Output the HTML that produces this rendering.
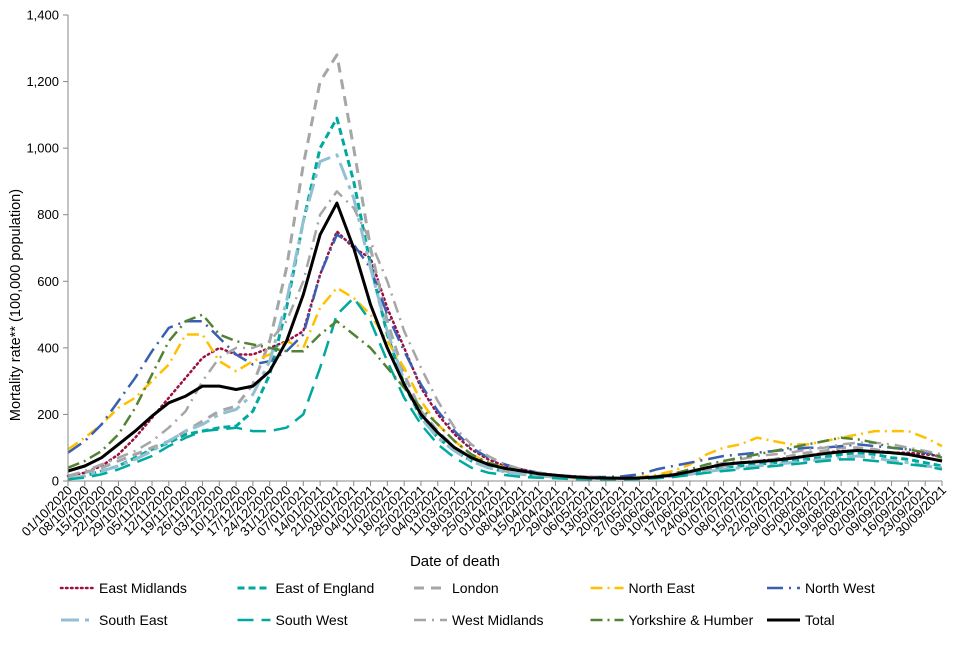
<!DOCTYPE html>
<html><head><meta charset="utf-8"><style>
body{margin:0;background:#fff;font-family:"Liberation Sans",Arial,sans-serif;}
svg text{font-family:"Liberation Sans",Arial,sans-serif;fill:#000;}
</style></head><body>
<svg id="chart" width="960" height="640" xmlns="http://www.w3.org/2000/svg">
<g id="grid"></g><g id="series"></g><g id="axes"></g><g id="legend"></g>
</svg>
<script>
const dates = ["01/10/2020","08/10/2020","15/10/2020","22/10/2020","29/10/2020","05/11/2020","12/11/2020","19/11/2020","26/11/2020","03/12/2020","10/12/2020","17/12/2020","24/12/2020","31/12/2020","07/01/2021","14/01/2021","21/01/2021","28/01/2021","04/02/2021","11/02/2021","18/02/2021","25/02/2021","04/03/2021","11/03/2021","18/03/2021","25/03/2021","01/04/2021","08/04/2021","15/04/2021","22/04/2021","29/04/2021","06/05/2021","13/05/2021","20/05/2021","27/05/2021","03/06/2021","10/06/2021","17/06/2021","24/06/2021","01/07/2021","08/07/2021","15/07/2021","22/07/2021","29/07/2021","05/08/2021","12/08/2021","19/08/2021","26/08/2021","02/09/2021","09/09/2021","16/09/2021","23/09/2021","30/09/2021"];
const yTicks = [0,200,400,600,800,1000,1200,1400];
const eastMidlands = [15,25,45,80,130,190,250,310,370,400,380,380,400,420,450,620,750,700,670,520,400,280,200,140,95,65,45,35,25,18,14,12,10,10,10,12,18,28,40,50,55,60,65,70,75,85,90,90,90,85,85,80,75];
const eastOfEngland = [5,15,30,45,70,95,115,140,150,160,165,210,320,520,780,1000,1090,900,650,440,290,190,130,90,60,40,28,20,15,12,10,8,8,8,9,12,18,25,35,40,45,50,55,60,65,72,80,85,80,70,65,55,45];
const london = [15,25,40,60,80,100,120,150,180,210,225,290,420,640,950,1200,1280,1000,700,480,320,210,150,100,70,45,30,22,15,12,10,8,8,8,10,12,18,25,35,45,55,60,65,75,85,90,100,100,95,85,80,70,60];
const northEast = [95,130,170,220,250,300,350,440,440,360,330,360,380,420,400,520,580,550,500,420,340,240,170,120,80,55,40,30,20,15,12,10,10,10,12,18,30,50,80,100,110,130,120,110,110,120,130,140,150,150,150,130,105];
const northWest = [85,120,170,240,310,390,460,480,480,430,380,350,360,390,440,620,740,710,640,500,390,290,210,150,100,70,50,35,25,18,14,12,12,14,20,35,45,55,65,75,80,85,90,95,100,100,105,110,105,100,95,85,75];
const southEast = [5,15,30,45,65,90,120,150,170,200,215,260,360,540,780,960,980,850,640,450,300,190,130,90,60,40,28,20,15,12,10,8,8,8,9,10,14,20,28,35,40,45,50,55,60,65,70,75,70,60,55,45,40];
const southWest = [5,10,20,35,55,75,105,130,150,155,160,150,150,160,200,340,500,550,480,360,250,170,110,70,40,25,18,12,10,8,6,5,5,5,6,8,12,18,25,30,35,40,45,50,55,60,65,65,60,55,50,45,35];
const westMidlands = [15,30,50,70,90,120,160,210,300,370,400,400,420,480,600,800,870,820,720,600,450,340,240,160,110,75,50,35,25,18,14,12,10,10,10,14,20,30,40,55,65,75,80,85,95,100,110,115,115,110,100,90,80];
const yorkshire = [40,60,90,140,220,320,420,480,500,440,420,410,400,390,390,440,480,440,400,340,280,220,170,120,80,55,40,30,22,16,12,10,9,9,10,14,22,35,50,60,70,80,90,100,110,120,130,125,115,100,95,85,70];
const total = [30,45,70,110,150,195,235,255,285,285,275,285,330,420,560,740,835,700,530,400,290,200,145,100,70,50,38,30,22,17,13,10,9,8,9,12,18,28,40,50,55,58,62,68,75,82,88,92,88,85,80,70,60];
const seriesNames = ["East Midlands","East of England","London","North East","North West","South East","South West","West Midlands","Yorkshire & Humber","Total"];
const seriesData = [eastMidlands,eastOfEngland,london,northEast,northWest,southEast,southWest,westMidlands,yorkshire,total];
const seriesKeys = ["east-midlands","east-of-england","london","north-east","north-west","south-east","south-west","west-midlands","yorkshire-humber","total"];
const styles = [
 {c:"#9b1040",w:2.5,d:"1.5 3.5",cap:"round"},
 {c:"#00a99d",w:3,d:"7 4"},
 {c:"#a6a6a6",w:3,d:"10 7"},
 {c:"#ffc000",w:2.5,d:"12 5 2 5"},
 {c:"#3a5fb0",w:2.5,d:"16 6 2 6"},
 {c:"#92c0d2",w:3,d:"18 6 4 6"},
 {c:"#00a99d",w:2.5,d:"16 8"},
 {c:"#a6a6a6",w:2.5,d:"12 6 2 6"},
 {c:"#548235",w:2.5,d:"12 5 2 5"},
 {c:"#000",w:3,d:""}
];
const X0=68,X1=942,Y0=481,Y1=15;
const xs=i=>X0+(X1-X0)*i/(dates.length-1);
const ys=v=>Y0-(Y0-Y1)*v/1400;
const NS="http://www.w3.org/2000/svg";
function mk(t,a,p){const e=document.createElementNS(NS,t);for(const k in a)e.setAttribute(k,a[k]);p.appendChild(e);return e;}
const axes=document.getElementById('axes'),ser=document.getElementById('series'),leg=document.getElementById('legend');
let ya=mk('line',{x1:X0,y1:Y1,x2:X0,y2:Y0,stroke:'#888','stroke-width':1},axes);


yTicks.forEach(v=>{
 mk('line',{x1:X0-5,x2:X0,y1:ys(v),y2:ys(v),stroke:'#888'},axes);
 const t=mk('text',{x:X0-9,y:ys(v)+4.5,'text-anchor':'end','font-size':13},axes);
 t.textContent=v.toLocaleString('en-GB');
 
 
});
let xa=mk('line',{x1:X0,y1:Y0,x2:X1,y2:Y0,stroke:'#888','stroke-width':1},axes);


dates.forEach((d,i)=>{
 const x=xs(i);
 mk('line',{x1:x,x2:x,y1:Y0,y2:Y0+5,stroke:'#888'},axes);
 const t=mk('text',{x:x+5,y:Y0+10,'text-anchor':'end','font-size':13,transform:`rotate(-45 ${x+5} ${Y0+10})`},axes);
 t.textContent=d;
 
 
});
let xt=mk('text',{x:455,y:566,'text-anchor':'middle','font-size':15},axes);
xt.textContent='Date of death';


let yt=mk('text',{x:20,y:305,'text-anchor':'middle','font-size':14.5,transform:'rotate(-90 20 305)'},axes);
yt.textContent='Mortality rate** (100,000 population)';


seriesData.forEach((arr,k)=>{
 const s=styles[k];
 const p=mk('path',{d:arr.map((v,i)=>(i?'L':'M')+xs(i).toFixed(1)+' '+ys(v).toFixed(1)).join(' '),fill:'none',stroke:s.c,'stroke-width':s.w,'stroke-dasharray':s.d,'stroke-linecap':s.cap||'butt','stroke-linejoin':'round'},ser);
 
 
 const col=k%5,row=Math.floor(k/5);
 const lx=61+col*176.5,ly=593+row*32;
 const g=mk('g',{},leg);
 
 
 mk('line',{x1:lx,x2:lx+33,y1:ly-5,y2:ly-5,stroke:s.c,'stroke-width':s.w,'stroke-dasharray':s.d,'stroke-linecap':s.cap||'butt'},g);
 const t=mk('text',{x:lx+38,y:ly,'font-size':14},g);
 t.textContent=seriesNames[k];
});
</script>
</body></html>
